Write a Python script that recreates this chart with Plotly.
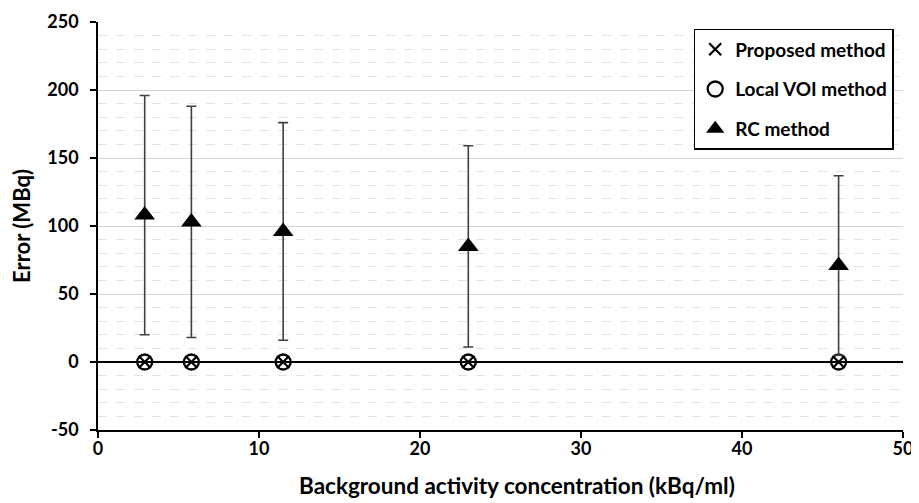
import plotly.graph_objects as go

# Data
background_conc = [2.9, 5.8, 11.5, 23.0, 46.0]          # kBq/ml
proposed_error = [0.0, 0.0, 0.0, 0.0, 0.0]              # MBq
local_voi_error = [0.0, 0.0, 0.0, 0.0, 0.0]             # MBq
rc_error = [108.0, 103.0, 96.0, 85.0, 71.0]             # MBq
rc_error_sd = [88.0, 85.0, 80.0, 74.0, 66.0]            # MBq (± error bar)

y_ticks = [-50, 0, 50, 100, 150, 200, 250]
y_tick_labels = ["-50", "0", "50", "100", "150", "200", "250"]
x_ticks = [0, 10, 20, 30, 40, 50]
x_tick_labels = ["0", "10", "20", "30", "40", "50"]

x_title = "Background activity concentration (kBq/ml)"
y_title = "Error (MBq)"

FONT = "Lato"
BLACK = "#000000"

fig = go.Figure()

fig.add_trace(go.Scatter(
    x=background_conc, y=proposed_error, mode="markers",
    name="Proposed method", legendgroup="a",
    marker=dict(symbol="x-thin-open", size=12, color=BLACK,
                line=dict(width=2.2, color=BLACK)),
))
fig.add_trace(go.Scatter(
    x=background_conc, y=local_voi_error, mode="markers",
    name="Local VOI method", legendgroup="b",
    marker=dict(symbol="circle-open", size=15, color=BLACK,
                line=dict(width=2.3, color=BLACK)),
))
fig.add_trace(go.Scatter(
    x=background_conc, y=rc_error, mode="markers",
    name="RC method", legendgroup="c",
    marker=dict(symbol="triangle-up", size=18, color=BLACK),
    error_y=dict(type="data", array=rc_error_sd, visible=True,
                 color="#404040", thickness=1.6, width=5),
))

# page body has an 8px margin, so the figure is offset by 8px
fig.update_layout(
    width=911, height=495,
    margin=dict(l=90, r=16, t=14, b=73),
    paper_bgcolor="white", plot_bgcolor="white",
    font=dict(family=FONT, size=15, color=BLACK, weight="bold"),
    showlegend=True,
    legend=dict(
        x=0.74, y=0.983, xanchor="left", yanchor="top",
        bgcolor="white", bordercolor=BLACK, borderwidth=1.5,
        font=dict(family=FONT, size=19, color=BLACK, weight="bold"),
        tracegroupgap=12, itemwidth=30,
    ),
    xaxis=dict(
        range=[0, 50], tickmode="array", tickvals=x_ticks, ticktext=x_tick_labels,
        tickfont=dict(family=FONT, size=18, color=BLACK, weight="bold"),
        ticks="outside", ticklen=6, tickwidth=1.5, tickcolor=BLACK,
        ticklabelstandoff=-4,
        showline=True, linecolor=BLACK, linewidth=1.5,
        showgrid=False, zeroline=False, automargin=False,
    ),
    yaxis=dict(
        range=[-50, 250], tickmode="array", tickvals=y_ticks, ticktext=y_tick_labels,
        tickfont=dict(family=FONT, size=18, color=BLACK, weight="bold"),
        title=dict(text=y_title,
                   font=dict(family=FONT, size=22, color=BLACK, weight="bold"),
                   standoff=14),
        ticks="outside", ticklen=6, tickwidth=1.5, tickcolor=BLACK,
        ticklabelstandoff=8,
        showline=True, linecolor=BLACK, linewidth=1.5,
        showgrid=True, gridcolor="#d4d4d4", gridwidth=1.2,
        zeroline=True, zerolinecolor=BLACK, zerolinewidth=1.8,
        minor=dict(dtick=10, showgrid=True, gridcolor="#e2e2e2",
                   griddash="dash", gridwidth=1),
        automargin=False,
    ),
    annotations=[dict(
        text=x_title, xref="paper", yref="paper",
        x=0.5205, y=-0.137, xanchor="center", yanchor="middle",
        showarrow=False,
        font=dict(family=FONT, size=22.5, color=BLACK, weight="bold"),
    )],
)

fig.write_html("out.html")
